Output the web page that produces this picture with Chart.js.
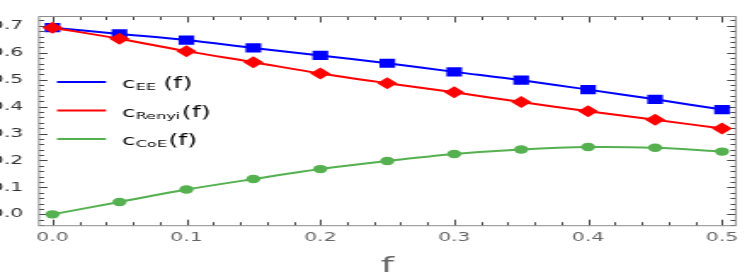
<!DOCTYPE html>
<html>
<head>
<meta charset="utf-8">
<script src="https://cdn.jsdelivr.net/npm/chart.js@4/dist/chart.umd.min.js"></script>
<style>
  html, body { margin: 0; padding: 0; background: #fff; overflow: hidden; }
  /* the source picture is stretched sideways, so draw narrow and scale up */
  #wrap { width: 439px; height: 273px; transform: scaleX(1.7016); transform-origin: 0 0; }
</style>
</head>
<body>
<div id="wrap"><canvas id="chart"></canvas></div>
<script>
'use strict';

// ── Data ──────────────────────────────────────────────────────────────────────
const F_VALUES = [0, 0.05, 0.1, 0.15, 0.2, 0.25, 0.3, 0.35, 0.4, 0.45, 0.5];
const C_EE     = [0.693, 0.670, 0.647, 0.618, 0.590, 0.561, 0.529, 0.498, 0.463, 0.427, 0.389];
const C_RENYI  = [0.693, 0.652, 0.606, 0.565, 0.523, 0.487, 0.453, 0.417, 0.383, 0.351, 0.319];
const C_COE    = [0.000, 0.046, 0.092, 0.131, 0.168, 0.198, 0.224, 0.241, 0.250, 0.247, 0.233];
const SUBSCRIPTS = ['EE', 'Renyi', 'CoE'];
const X_TICKS = [0, 0.1, 0.2, 0.3, 0.4, 0.5];
const Y_TICKS = [0, 0.1, 0.2, 0.3, 0.4, 0.5, 0.6, 0.7];
const X_TITLE = 'f';

const BLUE = '#0000ff', RED = '#ff0000', GREEN = '#55b04f';
const FONT = 'DejaVu Sans';

const pts = ys => F_VALUES.map((x, i) => ({ x, y: ys[i] }));

// ── Frame with inward ticks (Mathematica style) ──────────────────────────────
const framePlugin = {
  id: 'frame',
  beforeDatasetsDraw(chart) {
    const { ctx, chartArea: a, scales: { x, y } } = chart;
    ctx.save();
    ctx.lineWidth = 1;
    ctx.strokeStyle = '#444';
    ctx.beginPath();
    for (let i = 0; i <= 25; i++) {
      const px = Math.round(x.getPixelForValue(i * 0.02)) + 0.5;
      const len = i % 5 === 0 ? 6 : 3.5;
      ctx.moveTo(px, a.bottom); ctx.lineTo(px, a.bottom - len);
      ctx.moveTo(px, a.top);    ctx.lineTo(px, a.top + len);
    }
    for (let i = -2; i <= 36; i++) {
      const py = Math.round(y.getPixelForValue(i * 0.02)) + 0.5;
      const len = i % 5 === 0 ? 5 : 3;
      ctx.moveTo(a.left, py);  ctx.lineTo(a.left + len, py);
      ctx.moveTo(a.right, py); ctx.lineTo(a.right - len, py);
    }
    ctx.stroke();
    ctx.strokeStyle = '#8c8c8c';
    ctx.strokeRect(a.left, a.top, a.right - a.left, a.bottom - a.top);
    ctx.restore();
  }
};

// ── Legend with subscripts + axis title ─────────────────────────────────────
const legendPlugin = {
  id: 'subLegend',
  afterDraw(chart) {
    const { ctx, chartArea: a } = chart;
    const rows = [82, 110.5, 139];
    ctx.save();
    chart.data.datasets.forEach((ds, i) => {
      const ly = rows[i];
      ctx.strokeStyle = ds.borderColor;
      ctx.lineWidth = 2;
      ctx.beginPath();
      ctx.moveTo(33.5, ly); ctx.lineTo(62.3, ly);
      ctx.stroke();

      const base = ly + 6;
      let tx = 71.8;
      ctx.fillStyle = '#000';
      ctx.textBaseline = 'alphabetic';
      ctx.textAlign = 'left';
      ctx.font = `14px ${FONT}`;
      ctx.fillText('c', tx, base);
      tx += ctx.measureText('c').width + 0.2;
      ctx.font = `9.5px ${FONT}`;
      ctx.fillText(SUBSCRIPTS[i], tx, base + 2);
      tx = Math.max(tx + ctx.measureText(SUBSCRIPTS[i]).width + 0.8, 96);
      ctx.font = `15px ${FONT}`;
      ctx.fillText('(f)', tx, base);
    });

    ctx.fillStyle = '#666';
    ctx.font = `22px ${FONT}`;
    ctx.textAlign = 'center';
    ctx.fillText(X_TITLE, (a.left + a.right) / 2, 272);
    ctx.restore();
  }
};

new Chart(document.getElementById('chart'), {
  type: 'line',
  data: {
    datasets: [
      { label: 'cEE(f)', data: pts(C_EE), borderColor: BLUE, backgroundColor: BLUE,
        pointStyle: 'rect', pointRadius: 6.5, borderWidth: 2, pointBorderWidth: 0, order: 1 },
      { label: 'cRenyi(f)', data: pts(C_RENYI), borderColor: RED, backgroundColor: RED,
        pointStyle: 'rectRot', pointRadius: 6, borderWidth: 2, pointBorderWidth: 0, order: 0 },
      { label: 'cCoE(f)', data: pts(C_COE), borderColor: GREEN, backgroundColor: GREEN,
        pointStyle: 'circle', pointRadius: 4.2, borderWidth: 2, pointBorderWidth: 0, order: 2 }
    ]
  },
  options: {
    responsive: true, maintainAspectRatio: false, animation: false,
    devicePixelRatio: 1,
    elements: { line: { tension: 0.3 } },
    layout: { padding: { top: 1, right: 2.5, left: 0, bottom: 0 } },
    plugins: { legend: { display: false }, tooltip: { enabled: false } },
    scales: {
      x: {
        type: 'linear', min: -0.0101, max: 0.5102,
        grid: { display: false, drawTicks: false }, border: { display: false },
        ticks: { font: { family: FONT, size: 12 }, color: '#666', padding: 5,
                 maxRotation: 0, autoSkip: false, callback: v => v.toFixed(1) },
        afterBuildTicks: s => { s.ticks = X_TICKS.map(v => ({ value: v })); },
        afterFit: s => { s.height = 47.3; }
      },
      y: {
        min: -0.0422, max: 0.7346,
        grid: { display: false, drawTicks: false }, border: { display: false },
        ticks: { font: { family: FONT, size: 12 }, color: '#333', padding: 9.3,
                 autoSkip: false, callback: v => v.toFixed(1) },
        afterBuildTicks: s => { s.ticks = Y_TICKS.map(v => ({ value: v })); },
        afterFit: s => { s.width = 22.9; }
      }
    }
  },
  plugins: [framePlugin, legendPlugin]
});
</script>
</body>
</html>
